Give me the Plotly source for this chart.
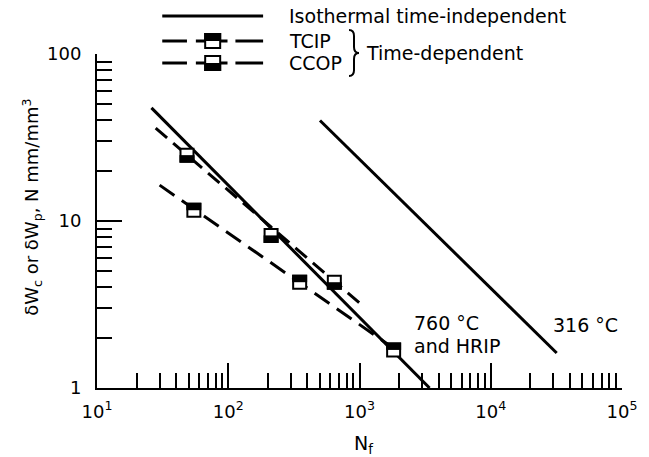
import plotly.graph_objects as go

# ---------------- data ----------------
iso760_N = [26, 3420]
iso760_W = [47.6, 1.0]
iso316_N = [500, 31800]
iso316_W = [40, 1.62]

ccop_fit_N = [28, 1045]
ccop_fit_W = [36, 3.14]
tcip_fit_N = [30, 1760]
tcip_fit_W = [16.4, 1.76]

ccop_N = [48.5, 212, 643]
ccop_W = [24.8, 8.2, 4.3]
tcip_N = [54.7, 350, 1820]
tcip_W = [11.6, 4.3, 1.69]

x_tickvals = [10, 100, 1000, 10000, 100000]
x_ticktext = ["10<sup>1</sup>", "10<sup>2</sup>", "10<sup>3</sup>", "10<sup>4</sup>", "10<sup>5</sup>"]
y_tickvals = [1, 10, 100]
y_ticktext = ["1", "10", "100"]

# ---------------- layout geometry ----------------
W, H = 649, 457
ML, MR, MT, MB = 97, 21, 54, 69
PW, PH = W - ML - MR, H - MT - MB
FONT = "DejaVu Sans"


def px(x):
    return (x - ML) / PW


def py(y):
    return (H - MB - y) / PH


fig = go.Figure()

line_style = dict(color="black", width=3)
fig.add_trace(go.Scatter(x=iso760_N, y=iso760_W, mode="lines", line=line_style, showlegend=False))
fig.add_trace(go.Scatter(x=iso316_N, y=iso316_W, mode="lines", line=line_style, showlegend=False))
fig.add_trace(go.Scatter(x=ccop_fit_N, y=ccop_fit_W, mode="lines",
                         line=dict(color="black", width=3, dash="15px,8px"), showlegend=False))
fig.add_trace(go.Scatter(x=tcip_fit_N, y=tcip_fit_W, mode="lines",
                         line=dict(color="black", width=3, dash="18px,9px"), showlegend=False))

# white square body of the half-filled markers
mk = dict(symbol="square", size=13, color="white", line=dict(color="black", width=2))
fig.add_trace(go.Scatter(x=ccop_N, y=ccop_W, mode="markers", marker=mk, showlegend=False))
fig.add_trace(go.Scatter(x=tcip_N, y=tcip_W, mode="markers", marker=mk, showlegend=False))


# black half: thick horizontal bar shifted by marker.standoff
def half(angle):
    return dict(symbol="line-ew", size=15 / 1.4, angle=angle, standoff=3.75,
                color="black", line=dict(color="black", width=7.5))


fig.add_trace(go.Scatter(x=ccop_N, y=ccop_W, mode="markers", marker=half(0), showlegend=False))
fig.add_trace(go.Scatter(x=tcip_N, y=tcip_W, mode="markers", marker=half(180), showlegend=False))

shapes = []


# ---------------- legend (drawn) ----------------
def seg(x0, x1, y):
    return dict(type="line", xref="paper", yref="paper", x0=px(x0), x1=px(x1), y0=py(y), y1=py(y),
                line=dict(color="black", width=3))


shapes.append(seg(163, 265, 16))
for yy, top_black in [(41, True), (63, False)]:
    shapes.append(seg(163, 188, yy))
    shapes.append(seg(197, 229, yy))
    shapes.append(seg(237, 265, yy))
    shapes.append(dict(type="rect", xref="paper", yref="paper", xsizemode="pixel", ysizemode="pixel",
                       xanchor=px(214), yanchor=py(yy), x0=-7.5, x1=7.5, y0=-7, y1=7,
                       fillcolor="white", line=dict(color="black", width=2)))
    shapes.append(dict(type="rect", xref="paper", yref="paper", xsizemode="pixel", ysizemode="pixel",
                       xanchor=px(214), yanchor=py(yy), x0=-8.5, x1=8.5,
                       y0=(0 if top_black else -8), y1=(8 if top_black else 0),
                       fillcolor="black", line=dict(width=0)))

# brace
shapes.append(dict(type="path", xref="paper", yref="paper", xsizemode="pixel", ysizemode="pixel",
                   xanchor=px(362), yanchor=py(53),
                   path="M -10,23 Q -5,23 -5,17 L -5,6 Q -5,0 0,0 Q -5,0 -5,-6 L -5,-17 Q -5,-23 -10,-23",
                   line=dict(color="black", width=2)))

annotations = []


def ann(text, x, y, xanchor="left", yanchor="middle", size=19, angle=0):
    annotations.append(dict(text=text, x=px(x), y=py(y), xref="paper", yref="paper",
                            xanchor=xanchor, yanchor=yanchor, showarrow=False, textangle=angle,
                            font=dict(family=FONT, size=size, color="black")))


ann("Isothermal time-independent", 289, 16)
ann("TCIP", 289, 41)
ann("CCOP", 289, 63)
ann("Time-dependent", 367, 53)
ann("760 °C", 416, 323)
ann("and HRIP", 416, 346)
ann("316 °C", 556, 325)
ann("δW<sub>c</sub> or δW<sub>p</sub>, N mm/mm<sup>3</sup>", 31, 207, xanchor="center", angle=-90, size=18)
ann("N<sub>f</sub>", 367, 444, xanchor="center")

axis_common = dict(showline=True, linecolor="black", linewidth=2, ticks="inside", tickwidth=1.5,
                   tickcolor="black", ticklen=25, showgrid=False, zeroline=False, mirror=False,
                   tickfont=dict(family=FONT, size=18, color="black"))

x_minor = [m * 10 ** k for k in range(1, 5) for m in range(2, 10)]
y_minor = [m * 10 ** k for k in range(0, 2) for m in range(2, 10)]

fig.update_layout(
    width=W, height=H,
    margin=dict(l=ML, r=MR, t=MT, b=MB),
    paper_bgcolor="white", plot_bgcolor="white",
    font=dict(family=FONT, color="black"),
    showlegend=False,
    xaxis=dict(type="log", range=[1, 5], tickvals=x_tickvals, ticktext=x_ticktext,
               ticklabelstandoff=6,
               minor=dict(ticks="inside", ticklen=15, tickwidth=1.5, tickcolor="black", tickvals=x_minor),
               **axis_common),
    yaxis=dict(type="log", range=[0, 2], tickvals=y_tickvals, ticktext=y_ticktext,
               ticklabelstandoff=10,
               minor=dict(ticks="inside", ticklen=15, tickwidth=1.5, tickcolor="black", tickvals=y_minor),
               **axis_common),
    shapes=shapes,
    annotations=annotations,
)

fig.write_html("out.html")
